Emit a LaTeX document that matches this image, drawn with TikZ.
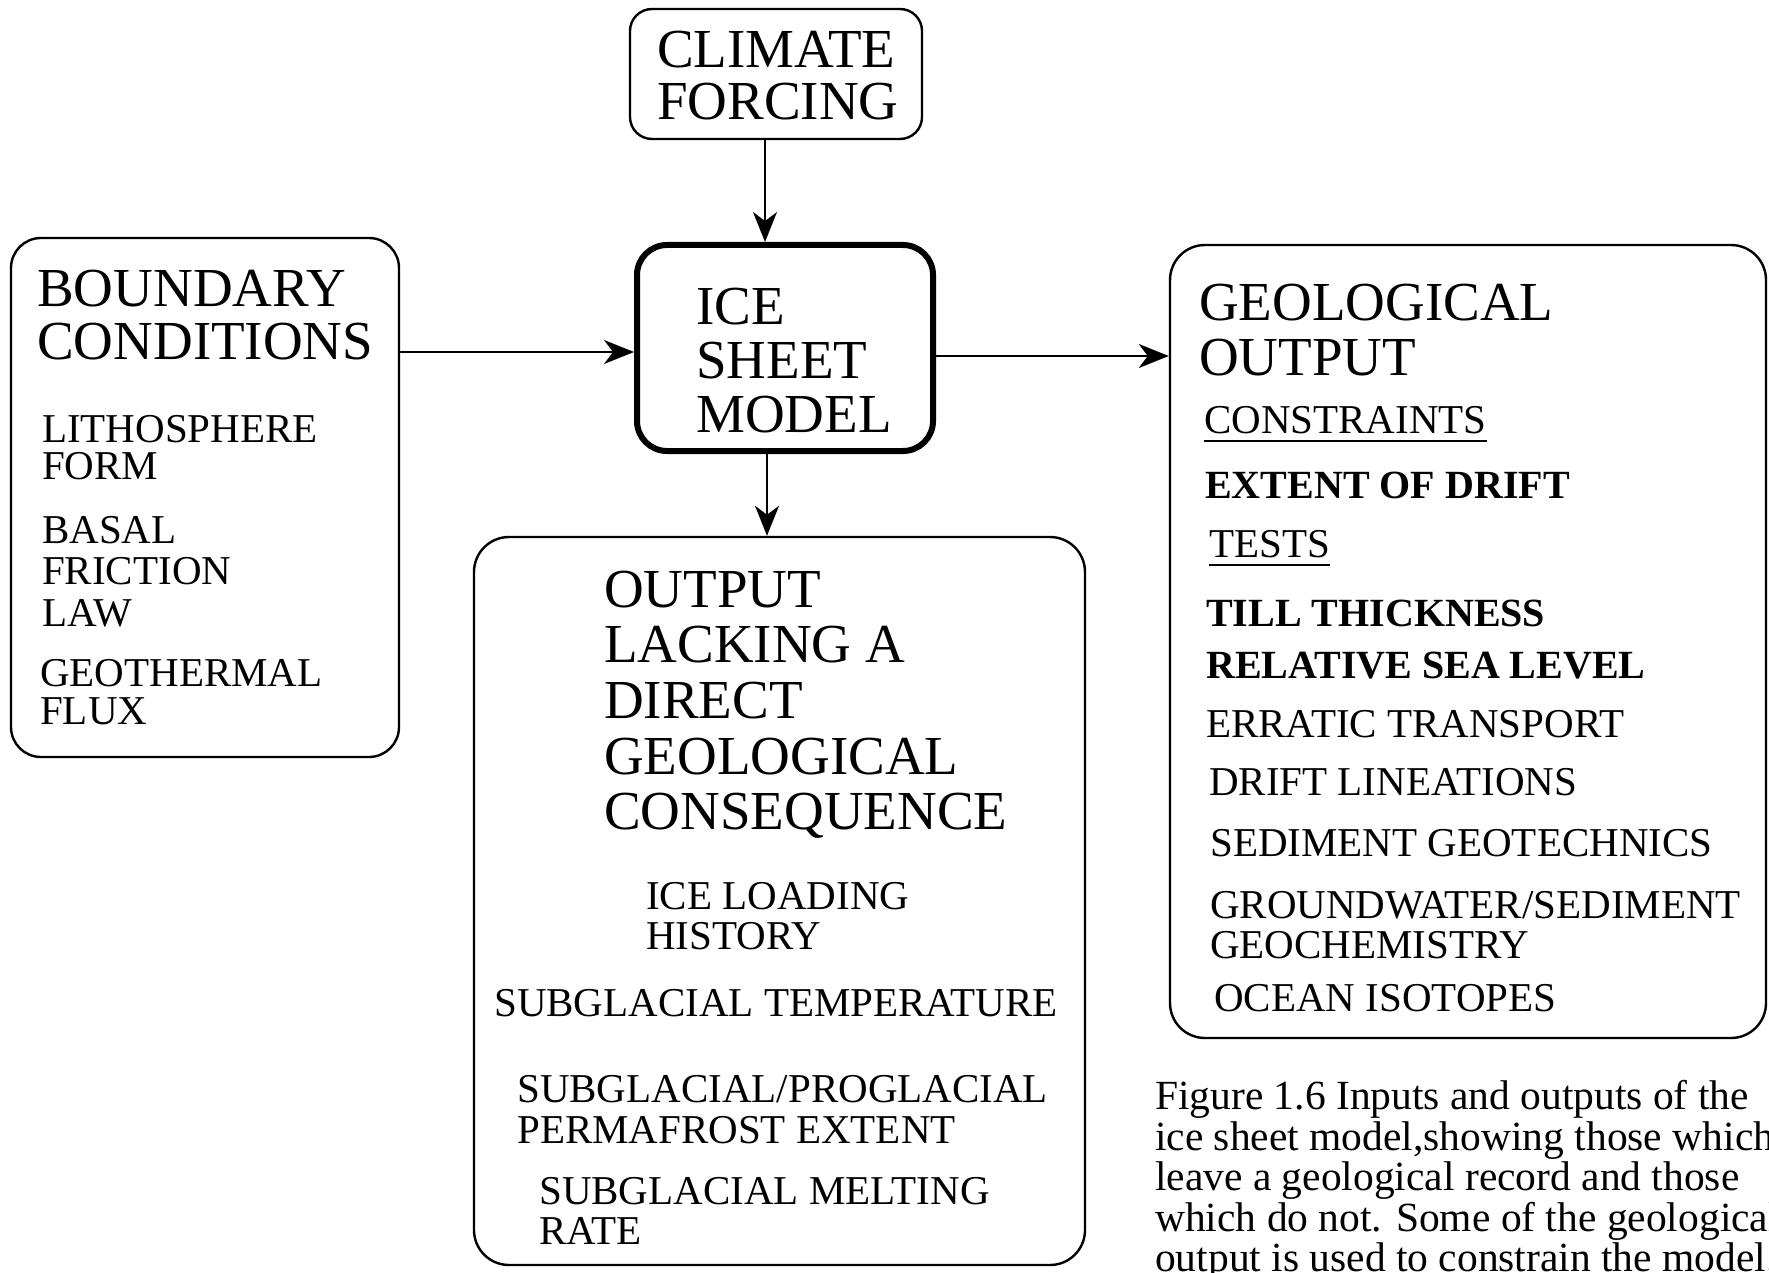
\documentclass[tikz,border=0pt]{standalone}
\usepackage{fontspec}
\setmainfont{Liberation Serif}
\usetikzlibrary{arrows.meta}
\begin{document}
\begin{tikzpicture}[x=1pt,y=-1pt,
  big/.style={anchor=base west,inner sep=0pt,font=\fontsize{55}{55}\selectfont},
  med/.style={anchor=base west,inner sep=0pt,font=\fontsize{41}{41}\selectfont},
  medb/.style={anchor=base west,inner sep=0pt,font=\fontsize{40}{40}\selectfont\bfseries},
  capt/.style={anchor=base west,inner sep=0pt,font=\fontsize{41.5}{41.5}\selectfont},
  box/.style={draw,line width=2.4pt,rounded corners=#1,inner sep=0pt},
  box/.default=30pt,
  conn/.style={line width=2pt,-{Stealth[length=30pt,width=24pt,inset=9pt]}},
  uline/.style={line width=2pt},
]
\clip (0,0) rectangle (1769,1273);
\fill[white] (0,0) rectangle (1769,1273);

% boxes
\node[box=22pt,minimum width=292pt,minimum height=130pt] (climate) at (776,74) {};
\node[box=30pt,line width=6pt,minimum width=296pt,minimum height=206pt] (ice) at (785,348) {};
\node[box=30pt,minimum width=388pt,minimum height=519pt] (bound) at (205,497.5) {};
\node[box=35pt,minimum width=611pt,minimum height=728pt] (outp) at (779.5,901) {};
\node[box=35pt,minimum width=596pt,minimum height=793pt] (geo) at (1468,641.5) {};

% helper coordinates for connector lines
\coordinate (ax) at (765,0);
\coordinate (bx) at (767,0);
\coordinate (ay) at (0,352);
\coordinate (gy) at (0,356);

\draw[conn] (ax |- climate.south) -- (ax |- ice.north);
\draw[conn] (bound.east |- ay) -- (ice.west |- ay);
\draw[conn] (ice.east |- gy) -- (geo.west |- gy);
\draw[conn] (bx |- ice.south) -- (bx |- outp.north);

% climate forcing
\node[big] (t1) at (657,68) {CLIMATE};
\node[big] (t2) at (657,120) {FORCING};

% ice sheet model
\node[big] (t3) at (696,324) {ICE};
\node[big] (t4) at (696,378) {SHEET};
\node[big] (t5) at (696,432) {MODEL};

% boundary conditions
\node[big] (b1) at (37,306) {BOUNDARY};
\node[big] (b2) at (37,359) {CONDITIONS};
\node[med] (b3) at (42,442) {LITHOSPHERE};
\node[med] (b4) at (42,479) {FORM};
\node[med] (b5) at (42,543) {BASAL};
\node[med] (b6) at (42,584) {FRICTION};
\node[med] (b7) at (42,626) {LAW};
\node[med] (b8) at (40,686) {GEOTHERMAL};
\node[med] (b9) at (40,724) {FLUX};

% output lacking
\node[big] (o1) at (604,607) {OUTPUT};
\node[big] (o2) at (604,662) {LACKING A};
\node[big] (o3) at (604,718) {DIRECT};
\node[big] (o4) at (604,774) {GEOLOGICAL};
\node[big] (o5) at (604,829) {CONSEQUENCE};
\node[med] (o6) at (646,909) {ICE LOADING};
\node[med] (o7) at (646,949) {HISTORY};
\node[med] (o8) at (494,1016) {SUBGLACIAL TEMPERATURE};
\node[med] (o9) at (517,1102) {SUBGLACIAL/PROGLACIAL};
\node[med] (o10) at (517,1143) {PERMAFROST EXTENT};
\node[med] (o11) at (539,1204) {SUBGLACIAL MELTING};
\node[med] (o12) at (539,1244) {RATE};

% geological output
\node[big] (g1) at (1199,320) {GEOLOGICAL};
\node[big] (g2) at (1199,375) {OUTPUT};
\node[med] (g3) at (1204,433) {CONSTRAINTS};
\draw[uline] ([yshift=-8pt]g3.base west) -- ([yshift=-8pt]g3.base east);
\node[medb] (g4) at (1205,498) {EXTENT OF DRIFT};
\node[med] (g5) at (1209,557) {TESTS};
\draw[uline] ([yshift=-8pt]g5.base west) -- ([yshift=-8pt]g5.base east);
\node[medb] (g6) at (1206,626) {TILL THICKNESS};
\node[medb] (g7) at (1206,678) {RELATIVE SEA LEVEL};
\node[med] (g8) at (1206,737) {ERRATIC TRANSPORT};
\node[med] (g9) at (1209,795) {DRIFT LINEATIONS};
\node[med] (g10) at (1210,856) {SEDIMENT GEOTECHNICS};
\node[med] (g11) at (1210,918) {GROUNDWATER/SEDIMENT};
\node[med] (g12) at (1210,958) {GEOCHEMISTRY};
\node[med] (g13) at (1214,1011) {OCEAN ISOTOPES};

% caption
\node[capt] (c1) at (1155,1109) {Figure 1.6 Inputs and outputs of the};
\node[capt] (c2) at (1155,1150) {ice sheet model,showing those which};
\node[capt] (c3) at (1155,1190) {leave a geological record and those};
\node[capt] (c4) at (1155,1231) {which do not. Some of the geological};
\node[capt] (c5) at (1155,1271) {output is used to constrain the model.};
\end{tikzpicture}
\end{document}
